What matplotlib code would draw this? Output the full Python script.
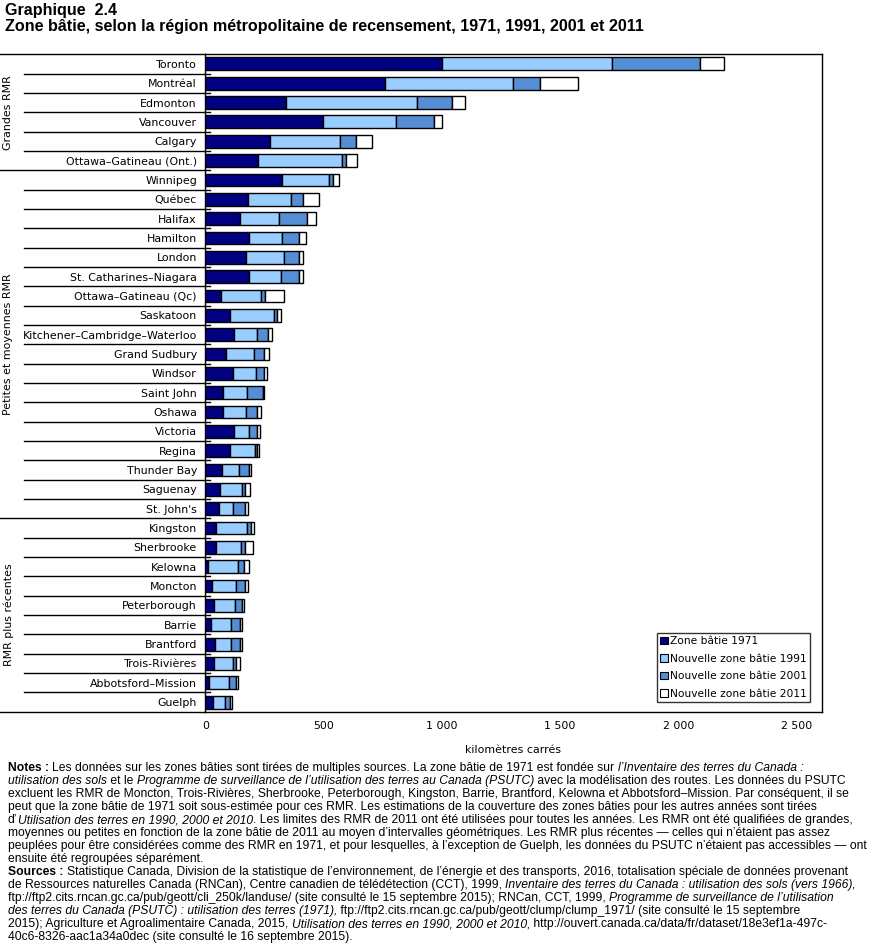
import matplotlib
matplotlib.use('Agg')
import matplotlib.pyplot as plt
from matplotlib import font_manager as fm
import matplotlib.transforms as mtransforms
from matplotlib.patches import Patch

# ---------------- data ----------------
categories = ["Toronto", "Montréal", "Edmonton", "Vancouver", "Calgary", "Ottawa–Gatineau (Ont.)",
              "Winnipeg", "Québec", "Halifax", "Hamilton", "London", "St. Catharines–Niagara",
              "Ottawa–Gatineau (Qc)", "Saskatoon", "Kitchener–Cambridge–Waterloo", "Grand Sudbury",
              "Windsor", "Saint John", "Oshawa", "Victoria", "Regina", "Thunder Bay", "Saguenay",
              "St. John's", "Kingston", "Sherbrooke", "Kelowna", "Moncton", "Peterborough", "Barrie",
              "Brantford", "Trois-Rivières", "Abbotsford–Mission", "Guelph"]
zone_1971 = [1001, 758, 343, 496, 274, 222, 326, 182, 148, 186, 171, 186, 68, 103, 120, 86,
             115, 76, 76, 120, 103, 72, 64, 59, 44, 44, 13, 30, 38, 25, 42, 38, 17, 34]
new_1991 = [719, 543, 551, 309, 297, 354, 195, 182, 164, 140, 160, 132, 169, 189, 100, 122,
            101, 102, 98, 66, 109, 72, 93, 60, 134, 109, 127, 101, 89, 85, 68, 81, 85, 51]
new_2001 = [373, 114, 148, 161, 65, 17, 17, 47, 119, 72, 67, 80, 17, 13, 47, 42,
            34, 64, 46, 34, 8, 42, 12, 50, 17, 16, 25, 38, 30, 38, 38, 12, 29, 21]
new_2011 = [102, 161, 55, 34, 67, 47, 26, 68, 39, 26, 17, 17, 77, 17, 17, 21,
            9, 8, 17, 13, 9, 9, 22, 13, 13, 34, 21, 13, 8, 9, 9, 17, 9, 8]
series_labels = ["Zone bâtie 1971", "Nouvelle zone bâtie 1991",
                 "Nouvelle zone bâtie 2001", "Nouvelle zone bâtie 2011"]
group_labels = ["Grandes RMR", "Petites et moyennes RMR", "RMR plus récentes"]
group_first = [0, 6, 24]
group_last = [5, 23, 33]
xtick_values = [0, 500, 1000, 1500, 2000, 2500]
xtick_labels = ["0", "500", "1 000", "1 500", "2 000", "2 500"]
x_label = "kilomètres carrés"
title1 = "Graphique  2.4"
title2 = "Zone bâtie, selon la région métropolitaine de recensement, 1971, 1991, 2001 et 2011"

notes_lines = [
    [("Notes : ", "b"), ("Les données sur les zones bâties sont tirées de multiples sources. La zone bâtie de 1971 est fondée sur ", "n"),
     ("l’Inventaire des terres du Canada :", "i")],
    [("utilisation des sols", "i"), (" et le ", "n"),
     ("Programme de surveillance de l’utilisation des terres au Canada (PSUTC)", "i"),
     (" avec la modélisation des routes. Les données du PSUTC", "n")],
    [("excluent les RMR de Moncton, Trois-Rivières, Sherbrooke, Peterborough, Kingston, Barrie, Brantford, Kelowna et Abbotsford–Mission. Par conséquent, il se", "n")],
    [("peut que la zone bâtie de 1971 soit sous-estimée pour ces RMR. Les estimations de la couverture des zones bâties pour les autres années sont tirées", "n")],
    [("d’", "n"), ("Utilisation des terres en 1990, 2000 et 2010", "i"),
     (". Les limites des RMR de 2011 ont été utilisées pour toutes les années. Les RMR ont été qualifiées de grandes,", "n")],
    [("moyennes ou petites en fonction de la zone bâtie de 2011 au moyen d’intervalles géométriques. Les RMR plus récentes — celles qui n’étaient pas assez", "n")],
    [("peuplées pour être considérées comme des RMR en 1971, et pour lesquelles, à l’exception de Guelph, les données du PSUTC n’étaient pas accessibles — ont", "n")],
    [("ensuite été regroupées séparément.", "n")],
    [("Sources : ", "b"), ("Statistique Canada, Division de la statistique de l’environnement, de l’énergie et des transports, 2016, totalisation spéciale de données provenant", "n")],
    [("de Ressources naturelles Canada (RNCan), Centre canadien de télédétection (CCT), 1999, ", "n"),
     ("Inventaire des terres du Canada : utilisation des sols (vers 1966),", "i")],
    [("ftp://ftp2.cits.rncan.gc.ca/pub/geott/cli_250k/landuse/ (site consulté le 15 septembre 2015); RNCan, CCT, 1999, ", "n"),
     ("Programme de surveillance de l’utilisation", "i")],
    [("des terres du Canada (PSUTC) : utilisation des terres (1971),", "i"),
     (" ftp://ftp2.cits.rncan.gc.ca/pub/geott/clump/clump_1971/ (site consulté le 15 septembre", "n")],
    [("2015); Agriculture et Agroalimentaire Canada, 2015, ", "n"), ("Utilisation des terres en 1990, 2000 et 2010,", "i"),
     (" http://ouvert.canada.ca/data/fr/dataset/18e3ef1a-497c-", "n")],
    [("40c6-8326-aac1a34a0dec (site consulté le 16 septembre 2015).", "n")],
]
notes_targets = [850, 850, 852, 693, 856, 850, 859, None, 858, 855, 857, 846, 852, None]

colors = ['#000080', '#99CCFF', '#558ED5', '#FFFFFF']

# ---------------- fonts ----------------
names = sorted({f.name for f in fm.fontManager.ttflist})
def pick(cands, default):
    for c in cands:
        if c in names:
            return c
    return default
sans = pick(['Liberation Sans', 'Arial'], 'DejaVu Sans')
title_kw = dict(family=sans)
notes_kw = dict(family=sans)
base = 'DejaVu Sans'
plt.rcParams['font.family'] = base

W, H = 869, 946
fig = plt.figure(figsize=(W / 100, H / 100), dpi=100)
renderer = fig.canvas.get_renderer()

def text_w(s, **kw):
    t = fig.text(0, 0, s + '|', **kw)
    w1 = t.get_window_extent(renderer).width
    t.remove()
    t = fig.text(0, 0, '|', **kw)
    w2 = t.get_window_extent(renderer).width
    t.remove()
    return w1 - w2

def style_kw(st, size):
    kw = dict(notes_kw)
    kw['fontsize'] = size
    if st == 'b':
        kw['fontweight'] = 'bold'
    elif st == 'i':
        kw['fontstyle'] = 'italic'
    return kw

# ---------------- axes ----------------
ax_l, ax_r, ax_t, ax_b = 205.3, 821.7, 54.3, 711.7
ax = fig.add_axes([ax_l / W, 1 - ax_b / H, (ax_r - ax_l) / W, (ax_b - ax_t) / H])
n = len(categories)
ys = list(range(n))
series = [zone_1971, new_1991, new_2001, new_2011]
left = [0] * n
handles = []
for vals, col, lab in zip(series, colors, series_labels):
    ax.barh(ys, vals, left=left, height=0.67, color=col, edgecolor='black', linewidth=1.0, zorder=3)
    left = [a + b for a, b in zip(left, vals)]
    handles.append(Patch(facecolor=col, edgecolor='black', linewidth=0.8, label=lab))

ax.set_xlim(0, 2606)
ax.set_ylim(n - 0.5, -0.5)

lab_size = 10 * 173 / text_w("Kitchener–Cambridge–Waterloo", fontsize=10, family=base)
ax.set_yticks(ys)
ax.set_yticklabels(categories, fontsize=lab_size)
ax.tick_params(axis='y', length=0, pad=6)
ax.set_xticks(xtick_values)
ax.set_xticklabels(xtick_labels, fontsize=lab_size)
ax.tick_params(axis='x', length=0, pad=7)
ax.set_xlabel(x_label, fontsize=lab_size, labelpad=10)
for sp in ax.spines.values():
    sp.set_linewidth(1.0)

axw = ax_r - ax_l
trans = mtransforms.blended_transform_factory(ax.transAxes, ax.transData)
x_full = -ax_l / axw
x_cat = -(ax_l - 24) / axw
x_stub = 5 / axw
boundaries = [i + 0.5 for i in range(n - 1)]
group_bounds = [g - 0.5 for g in group_first[1:]]
for yb in boundaries:
    x0 = x_full if yb in group_bounds else x_cat
    ax.plot([x0, x_stub], [yb, yb], color='black', lw=1.0, transform=trans, clip_on=False, zorder=4)
# top and bottom lines extend to the figure edge
ax.plot([x_full, 0], [-0.5, -0.5], color='black', lw=1.0, transform=trans, clip_on=False)
ax.plot([x_full, 0], [n - 0.5, n - 0.5], color='black', lw=1.0, transform=trans, clip_on=False)

gtrans = mtransforms.blended_transform_factory(fig.transFigure, ax.transData)
for lab, a, b in zip(group_labels, group_first, group_last):
    ax.text(8.5 / W, (a + b) / 2, lab, rotation=90, ha='center', va='center',
            fontsize=lab_size, transform=gtrans, clip_on=False)

leg = ax.legend(handles=handles, loc='lower right', bbox_to_anchor=(0.981, 0.0152),
                borderaxespad=0, fontsize=lab_size * 0.97, frameon=True, fancybox=False,
                edgecolor='black', handlelength=0.7, handleheight=0.7, handletextpad=0.2,
                labelspacing=0.7, borderpad=0.28)
leg.get_frame().set_linewidth(1.0)

# ---------------- titles ----------------
t_size = 10 * 639 / text_w(title2, fontsize=10, fontweight='bold', **title_kw)
fig.text(5 / W, 1 - 11 / H, title1, fontsize=t_size, fontweight='bold', va='center', ha='left', **title_kw)
fig.text(5 / W, 1 - 27 / H, title2, fontsize=t_size, fontweight='bold', va='center', ha='left', **title_kw)

# ---------------- notes ----------------
def line_w(runs, size):
    return sum(text_w(s, **style_kw(st, size)) for s, st in runs)
tot_nat = 0
tot_tgt = 0
for runs, tg in zip(notes_lines, notes_targets):
    if tg is not None:
        tot_nat += line_w(runs, 10)
        tot_tgt += tg - 8
n_size = 10 * tot_tgt / tot_nat
y0 = 768
for i, runs in enumerate(notes_lines):
    x = 8
    y = y0 + i * 13.0
    for s, st in runs:
        kw = style_kw(st, n_size)
        fig.text(x / W, 1 - y / H, s, va='center', ha='left', **kw)
        x += text_w(s, **kw)

fig.savefig('out.png', dpi=100)
